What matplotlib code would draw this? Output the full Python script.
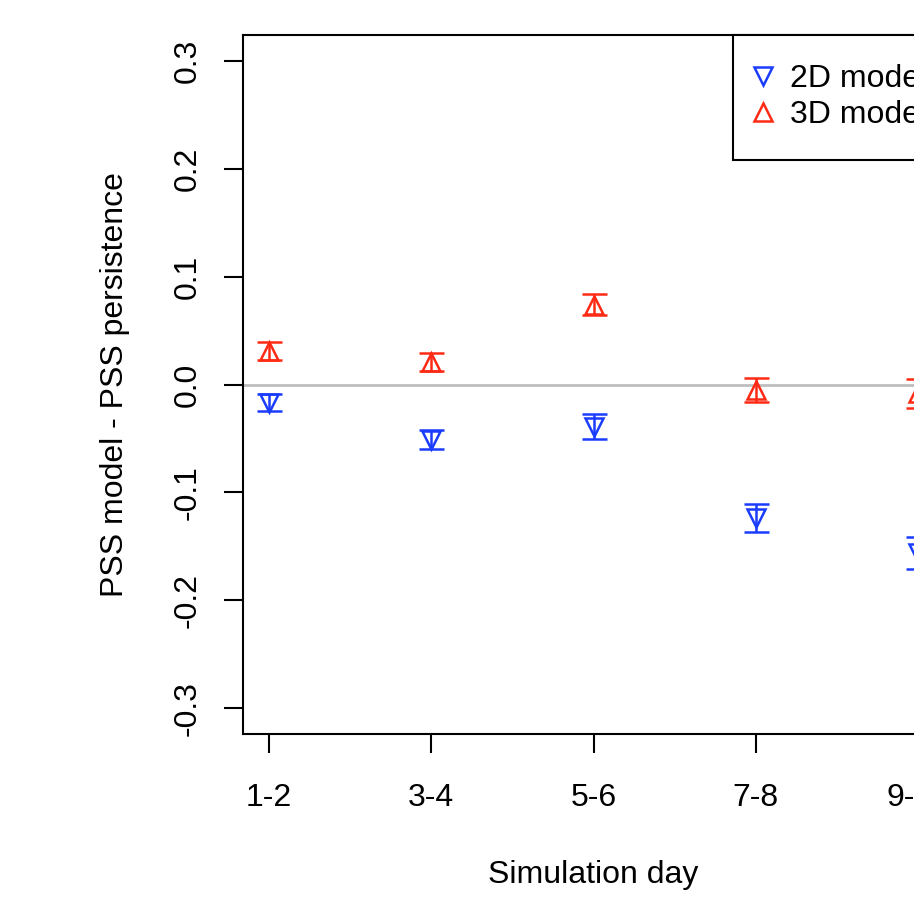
import numpy as np
import matplotlib.pyplot as plt
from matplotlib.lines import Line2D

plt.rcParams['font.family'] = ['Liberation Sans', 'DejaVu Sans']

days = ['1-2', '3-4', '5-6', '7-8', '9-10']
diff_2d = [-0.017, -0.051, -0.039, -0.124, -0.156]
err_2d = [0.008, 0.009, 0.0115, 0.013, 0.015]
diff_3d = [0.031, 0.021, 0.074, -0.005, -0.008]
err_3d = [0.008, 0.0085, 0.010, 0.011, 0.0135]

blue = '#1a3cff'
red = '#ff2a14'

fig = plt.figure(figsize=(9.14, 8.99), dpi=100)
# axes run off the right edge, like the original plot window
ax = fig.add_axes([243 / 914, 165 / 899, 701 / 914, 699 / 899])

x = np.arange(1, len(days) + 1)
ax.axhline(0, color='#bebebe', lw=2, zorder=1)

ax.errorbar(x, diff_2d, yerr=err_2d, fmt='v', color=blue, mfc='none',
            mec=blue, ms=13, mew=1.8, capsize=9, capthick=1.8, elinewidth=1.8,
            zorder=3)
ax.errorbar(x, diff_3d, yerr=err_3d, fmt='^', color=red, mfc='none',
            mec=red, ms=13, mew=1.8, capsize=9, capthick=1.8, elinewidth=1.8,
            zorder=3)

ax.set_xlim(0.84, 5.16)
ax.set_ylim(-0.324, 0.324)
ax.set_xticks(x)
ax.set_xticklabels(days)
ax.set_yticks([-0.3, -0.2, -0.1, 0.0, 0.1, 0.2, 0.3])
ax.set_yticklabels(['-0.3', '-0.2', '-0.1', '0.0', '0.1', '0.2', '0.3'],
                   rotation=90, va='center')
ax.tick_params(axis='both', labelsize=23, length=14, width=1.5)
ax.tick_params(axis='x', pad=21)
ax.tick_params(axis='y', pad=15)

for side in ['top', 'bottom', 'left', 'right']:
    ax.spines[side].set_linewidth(1.5)

ax.set_xlabel('Simulation day', fontsize=23, labelpad=34)
ax.set_ylabel('PSS model - PSS persistence', fontsize=23, labelpad=31)

handles = [
    Line2D([], [], ls='none', marker='v', ms=13, mfc='none', mec=blue, mew=1.8),
    Line2D([], [], ls='none', marker='^', ms=13, mfc='none', mec=red, mew=1.8),
]
leg = ax.legend(handles, ['2D model', '3D model'], loc='upper left',
                bbox_to_anchor=(733 / 914, 1 - 35 / 899),
                bbox_transform=fig.transFigure, borderaxespad=0,
                fancybox=False, framealpha=1, edgecolor='black',
                fontsize=23, handlelength=0.02, handletextpad=0.85,
                borderpad=0.92, labelspacing=0.19)
leg.get_frame().set_linewidth(1.5)

fig.savefig('out.png', dpi=100)
